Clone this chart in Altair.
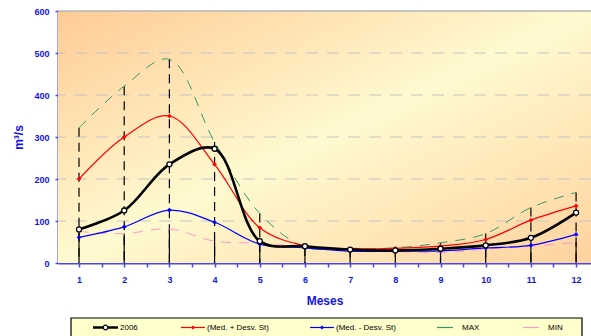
import altair as alt
import pandas as pd

months = [1, 2, 3, 4, 5, 6, 7, 8, 9, 10, 11, 12]
s2006 = [80, 125, 235, 272, 52, 40, 32, 30, 34, 42, 60, 120]
med_plus = [200, 300, 350, 235, 84, 41, 34, 35, 40, 56, 102, 136]
med_minus = [61, 86, 126, 97, 45, 36, 28, 28, 29, 36, 42, 68]
s_max = [322, 421, 485, 288, 118, 38, 35, 36, 48, 70, 132, 168]
s_min = [75, 70, 81, 52, 47, 38, 28, 27, 25, 33, 40, 49]
y_ticks = [0, 100, 200, 300, 400, 500, 600]
series_names = ["2006", "(Med. + Desv. St)", "(Med. - Desv. St)", "MAX", "MIN"]

W, H = 533, 252
BLUE = "#1414E6"
FONT = "Liberation Sans"
XD = [0.535, 12.33]

df = pd.DataFrame({"mes": months, "s2006": s2006, "plus": med_plus,
                   "minus": med_minus, "mx": s_max, "mn": s_min})

xscale = alt.Scale(domain=XD, nice=False, zero=False)
yscale = alt.Scale(domain=[0, 600], nice=False)
tick_vals = months + [m + 0.5 for m in months[:-1]]

xaxis = alt.Axis(values=tick_vals, labelExpr="datum.value % 1 == 0 ? datum.value : ''",
                 title="Meses", grid=False, domainColor="#4848E8", domainWidth=2,
                 tickColor="#4848E8", tickSize=4, tickWidth=1.5, labelColor=BLUE,
                 labelFont=FONT, labelFontSize=9, labelFontWeight="bold", labelPadding=8,
                 titleColor=BLUE, titleFont=FONT, titleFontSize=12, titleFontWeight="bold",
                 titlePadding=11, labelFlush=False)
yaxis = alt.Axis(values=y_ticks, title="m³/s", grid=False, domainColor="#4848E8",
                 domainWidth=2, tickColor="#4848E8", tickSize=3, tickWidth=1.5,
                 labelColor=BLUE, labelFont=FONT, labelFontSize=9, labelFontWeight="bold",
                 labelPadding=6, titleColor=BLUE, titleFont=FONT, titleFontSize=12,
                 titleFontWeight="bold", titlePadding=8)


def XF(field):
    return alt.X(f"{field}:Q", scale=xscale, axis=xaxis)


def YF(field):
    return alt.Y(f"{field}:Q", scale=yscale, axis=yaxis)


base = alt.Chart(df)

bg = alt.Chart(pd.DataFrame({"a": [0]})).mark_rect(
    color=alt.LinearGradient(gradient="linear", x1=0, y1=0, x2=1, y2=1,
                             stops=[alt.GradientStop(color="#FFCB96", offset=0),
                                    alt.GradientStop(color="#FFFAD0", offset=0.5),
                                    alt.GradientStop(color="#FFD29E", offset=1)])
).encode(x=alt.value(0), x2=alt.value(W), y=alt.value(0), y2=alt.value(H))

grid_df = pd.DataFrame({"v": y_ticks[1:-1]})
grid = alt.Chart(grid_df).mark_rule(color="#C4C4C4", strokeWidth=1.2, strokeDash=[12, 9]).encode(
    y=YF("v"))
top = alt.Chart(pd.DataFrame({"v": [600]})).mark_rule(color="#B4B4B4", strokeWidth=1.5).encode(
    y=YF("v"))

drop_dash = base.mark_rule(color="black", strokeWidth=1.2, strokeDash=[9, 6]).encode(
    x=XF("mes"), y=YF("mx"), y2=alt.datum(0))
drop_solid = base.mark_rule(color="black", strokeWidth=1.2).encode(
    x=XF("mes"), y=YF("mn"), y2=alt.datum(0))


def line(field, color, width, dash=None):
    kw = dict(color=color, strokeWidth=width, interpolate="catmull-rom")
    if dash:
        kw["strokeDash"] = dash
    return base.mark_line(**kw).encode(x=XF("mes"), y=YF(field))


l_max = line("mx", "#339966", 1, [10, 8])
l_min = line("mn", "#FF99CC", 1, [10, 8])
l_plus = line("plus", "#FF0000", 1.2)
l_minus = line("minus", "#0000FF", 1.2)
l_2006 = line("s2006", "#000000", 2.6)

p_plus = base.mark_point(shape="diamond", filled=True, color="#FF0000", size=22, opacity=1).encode(
    x=XF("mes"), y=YF("plus"))
p_minus = base.mark_point(shape="diamond", filled=True, color="#0000FF", size=22, opacity=1).encode(
    x=XF("mes"), y=YF("minus"))
p_2006 = base.mark_point(shape="circle", filled=True, fill="white", stroke="black",
                         strokeWidth=1.3, size=25, opacity=1).encode(
    x=XF("mes"), y=YF("s2006"))


# legend layout (pixels from plot left), converted into the shared x scale units
def px(p):
    return XD[0] + p / W * (XD[1] - XD[0])


leg_x0 = [35, 123, 252, 379, 465]
leg_len = [25, 24, 24, 16, 16]
leg_col = ["#000000", "#FF0000", "#0000FF", "#339966", "#FF99CC"]
leg_w = [2.5, 1.2, 1.2, 1.2, 1.2]
leg_text_gap = [27, 26, 26, 25, 25]
LY = 316.5
ldf = pd.DataFrame({"name": series_names,
                    "x0": [px(a) for a in leg_x0],
                    "x1": [px(a + b) for a, b in zip(leg_x0, leg_len)],
                    "xm": [px(a + b / 2) for a, b in zip(leg_x0, leg_len)],
                    "xt": [px(a + b) for a, b in zip(leg_x0, leg_text_gap)],
                    "col": leg_col, "w": leg_w})
leg_box = alt.Chart(pd.DataFrame({"a": [0]})).mark_rect(
    fill="#FFFFCC", stroke="black", strokeWidth=1.2).encode(
    x=alt.value(13), x2=alt.value(524), y=alt.value(307), y2=alt.value(335))
leg_lines = alt.Chart(ldf).mark_rule().encode(
    x=XF("x0"), x2="x1:Q", y=alt.value(LY),
    color=alt.Color("col:N", scale=None), strokeWidth=alt.StrokeWidth("w:Q", scale=None))
leg_circle = alt.Chart(ldf.iloc[[0]]).mark_point(
    shape="circle", filled=True, fill="white", stroke="black", strokeWidth=1.2, size=22, opacity=1
).encode(x=XF("xm"), y=alt.value(LY))
leg_diam = alt.Chart(ldf.iloc[[1, 2]]).mark_point(shape="diamond", filled=True, size=18, opacity=1).encode(
    x=XF("xm"), y=alt.value(LY), color=alt.Color("col:N", scale=None))
leg_text = alt.Chart(ldf).mark_text(align="left", baseline="middle", fontSize=8,
                                    font="Liberation Sans Narrow, Liberation Sans", color="black").encode(
    x=XF("xt"), y=alt.value(LY), text="name:N")

chart = alt.layer(
    bg, grid, top, drop_dash, drop_solid, l_max, l_min, l_plus, l_minus, l_2006,
    p_plus, p_minus, p_2006, leg_box, leg_lines, leg_circle, leg_diam, leg_text
).properties(
    width=W, height=H,
    autosize=alt.AutoSizeParams(type="none"),
    padding={"left": 58, "top": 11, "right": 0, "bottom": 73}
).configure_view(stroke=None).configure(background="white")

chart.save("out.html", embed_options={"renderer": "svg", "actions": False})
